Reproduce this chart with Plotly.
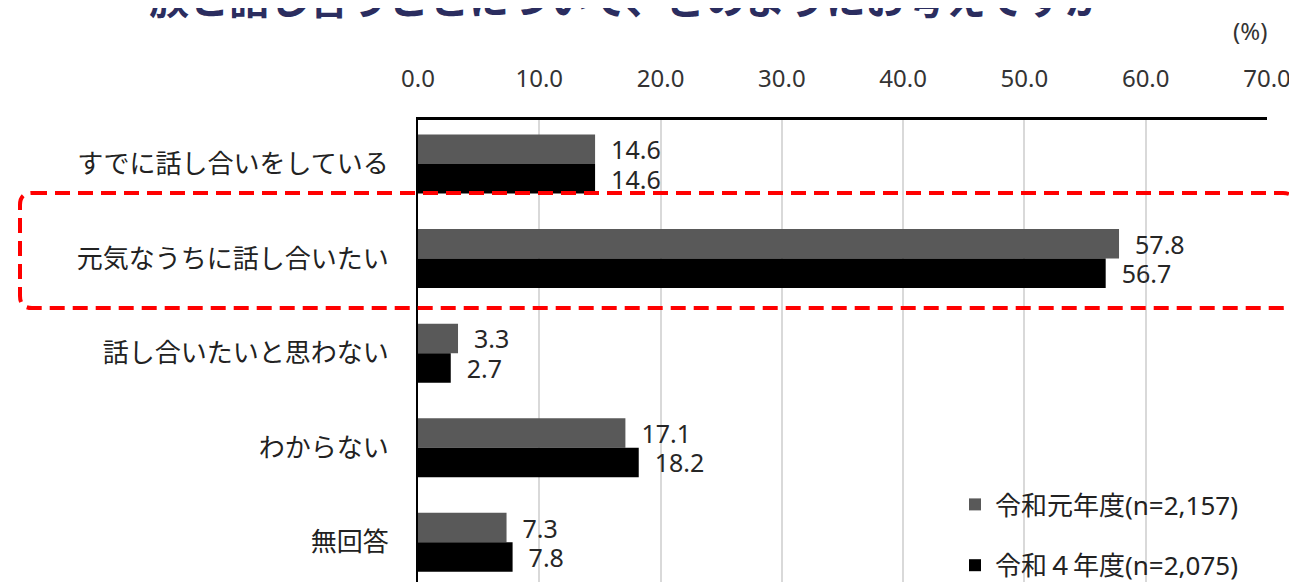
import plotly.graph_objects as go

categories = ["すでに話し合いをしている", "元気なうちに話し合いたい", "話し合いたいと思わない", "わからない", "無回答"]
series_names = ["令和元年度(n=2,157)", "令和４年度(n=2,075)"]
values_r1 = [14.6, 57.8, 3.3, 17.1, 7.3]
values_r4 = [14.6, 56.7, 2.7, 18.2, 7.8]
tick_vals = [0, 10, 20, 30, 40, 50, 60, 70]
tick_text = ["0.0", "10.0", "20.0", "30.0", "40.0", "50.0", "60.0", "70.0"]
title_text = "族と話し合うことについて、どのようにお考えですか"
unit_text = "(%)"

# page body has an 8px margin; figure coordinates = page coordinates - 8
OFF = 8
W, H = 1297, 640
L = 418 - OFF
T = 120 - OFF
R = W - (1267 - OFF)
B = H - (610 - OFF)          # plot area continues below the visible window
PW, PH = W - L - R, H - T - B

def px_x(p):  # page pixel -> paper x
    return (p - OFF - L) / PW

def px_y(p):  # page pixel -> paper y
    return (H - B - (p - OFF)) / PH

cjk = "Noto Sans CJK JP"
latin = "Noto Sans, Noto Sans CJK JP"
fig = go.Figure()
colors = ["#595959", "#000000"]
for i, (name, vals) in enumerate(zip(series_names, [values_r1, values_r4])):
    fig.add_trace(go.Bar(
        y=categories, x=vals, name=name, orientation="h",
        marker=dict(color=colors[i], line=dict(width=0)),
        text=vals, texttemplate="  %{x:.1f}", textposition="outside",
        constraintext="none",
        textfont=dict(size=25, color="#262626", family=latin),
        cliponaxis=False, legendgroup=f"g{i}",
    ))

# rounded dashed red rectangle around the second category
x0, x1 = px_x(20), px_x(1295)
y0, y1 = px_y(308), px_y(193)
rx, ry = 12 / PW, 12 / PH
path = (f"M {x0+rx},{y1} L {x1-rx},{y1} Q {x1},{y1} {x1},{y1-ry} "
        f"L {x1},{y0+ry} Q {x1},{y0} {x1-rx},{y0} L {x0+rx},{y0} "
        f"Q {x0},{y0} {x0},{y0+ry} L {x0},{y1-ry} Q {x0},{y1} {x0+rx},{y1} Z")
fig.add_shape(type="path", path=path, xref="paper", yref="paper",
              line=dict(color="#ff0000", width=4, dash="15px,8px"))

fig.add_annotation(text=title_text, xref="paper", yref="paper",
                   x=px_x(627), y=px_y(28), xanchor="center", yanchor="bottom",
                   showarrow=False,
                   font=dict(size=40, color="#2b2d5f", family=cjk, weight="bold"))
fig.add_annotation(text=unit_text, xref="paper", yref="paper",
                   x=px_x(1250), y=px_y(30), xanchor="center", yanchor="middle",
                   showarrow=False, font=dict(size=24, color="#333333", family=latin))

fig.update_layout(
    width=W, height=H,
    margin=dict(l=L, r=R, t=T, b=B),
    paper_bgcolor="white", plot_bgcolor="white",
    barmode="group", bargap=0.376, bargroupgap=0,
    font=dict(family=cjk, color="#222222"),
    legend=dict(x=px_x(955), y=px_y(481), xanchor="left", yanchor="top",
                font=dict(size=26, color="#222222", family=latin),
                traceorder="grouped", tracegroupgap=24,
                bgcolor="rgba(0,0,0,0)"),
    xaxis=dict(side="top", range=[0, 70], tickvals=tick_vals, ticktext=tick_text,
               showgrid=True, gridcolor="#d9d9d9", gridwidth=2,
               showline=True, linecolor="black", linewidth=3,
               ticks="", ticklabelstandoff=20,
               tickfont=dict(size=24, color="#333333", family=latin),
               zeroline=False, fixedrange=True),
    yaxis=dict(categoryorder="array", categoryarray=categories,
               range=[4.716, -0.466], showline=True, linecolor="black", linewidth=2,
               ticks="", ticklabelstandoff=22,
               tickfont=dict(size=26, color="#222222", family=cjk),
               showgrid=False, fixedrange=True),
)

fig.write_html("out.html")
